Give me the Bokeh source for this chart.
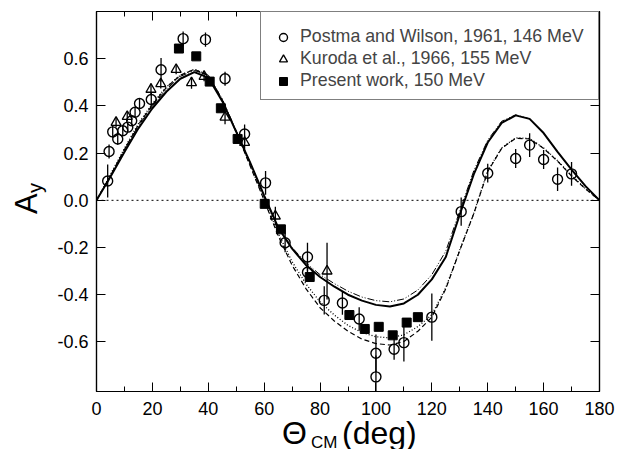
from bokeh.plotting import figure
from bokeh.models import (ColumnDataSource, Legend, LegendItem, Span, Div,
                          LinearAxis, FixedTicker, Range1d)
from bokeh.layouts import row, column
from bokeh.embed import file_html
from bokeh.resources import INLINE

FONT = "Liberation Sans"

# ---------------- data ----------------
postma_theta = [4, 4.5, 5.8, 7.6, 9.4, 11.2, 12.6, 13.8, 15.4, 19.6, 23.1, 31, 39, 46,
                53, 60.5, 67.5, 75.5, 75.5, 81.5, 88, 94, 100, 100, 106.5, 110, 120,
                130.5, 140, 150, 155, 160, 165, 170]
postma_ay = [0.082, 0.207, 0.29, 0.26, 0.295, 0.31, 0.337, 0.373, 0.41, 0.427, 0.553,
             0.685, 0.681, 0.515, 0.281, 0.074, -0.18, -0.24, -0.305, -0.424, -0.435,
             -0.503, -0.648, -0.748, -0.631, -0.603, -0.495, -0.048, 0.115, 0.177,
             0.234, 0.173, 0.089, 0.112]
postma_err = [0.07, 0.03, 0.025, 0.025, 0.02, 0.02, 0.02, 0.02, 0.02, 0.03, 0.05, 0.03,
              0.03, 0.03, 0.04, 0.05, 0.04, 0.06, 0.04, 0.06, 0.05, 0.05, 0.08, 0.09,
              0.045, 0.08, 0.1, 0.06, 0.04, 0.04, 0.05, 0.04, 0.05, 0.05]

kuroda_theta = [7, 11, 19.5, 23, 28.5, 34, 38.5, 46, 53, 64, 82.5]
kuroda_ay = [0.33, 0.355, 0.47, 0.494, 0.554, 0.498, 0.525, 0.352, 0.245, -0.067, -0.30]
kuroda_err = [0.02, 0.02, 0.025, 0.02, 0.02, 0.025, 0.02, 0.03, 0.03, 0.04, 0.12]

present_theta = [29.5, 35.7, 40.5, 44.5, 50.5, 60.2, 66, 76.3, 90.5, 96, 101, 106, 111, 115]
present_ay = [0.643, 0.61, 0.503, 0.39, 0.26, -0.015, -0.123, -0.325, -0.486, -0.545,
              -0.536, -0.572, -0.518, -0.495]

curve_theta = [0, 5, 10, 15, 20, 25, 30, 35, 40, 45, 50, 55, 60, 65, 70, 75, 80, 85, 90,
               95, 100, 105, 110, 115, 120, 125, 130, 135, 140, 145, 150, 155, 160, 165,
               170, 175, 180]
curve_solid = [0.0, 0.10, 0.205, 0.305, 0.39, 0.46, 0.515, 0.543, 0.52, 0.42, 0.29, 0.16,
               0.02, -0.115, -0.205, -0.275, -0.325, -0.365, -0.40, -0.425, -0.443, -0.45,
               -0.437, -0.40, -0.335, -0.24, -0.06, 0.11, 0.245, 0.328, 0.36, 0.345,
               0.285, 0.205, 0.13, 0.06, 0.0]
curve_dashdot = [0.0, 0.105, 0.215, 0.315, 0.40, 0.47, 0.525, 0.55, 0.53, 0.43, 0.295,
                 0.16, 0.015, -0.115, -0.20, -0.265, -0.315, -0.352, -0.385, -0.41, -0.425,
                 -0.43, -0.418, -0.38, -0.315, -0.215, -0.045, 0.125, 0.255, 0.335, 0.362,
                 0.345, 0.285, 0.205, 0.13, 0.06, 0.0]
curve_dotted = [0.0, 0.11, 0.22, 0.325, 0.41, 0.48, 0.53, 0.555, 0.53, 0.425, 0.29, 0.15,
                0.005, -0.14, -0.26, -0.355, -0.43, -0.485, -0.53, -0.56, -0.578, -0.583,
                -0.57, -0.535, -0.485, -0.37, -0.21, -0.055, 0.125, 0.222, 0.265, 0.262,
                0.222, 0.168, 0.105, 0.05, 0.0]
curve_dashed = [0.0, 0.105, 0.215, 0.32, 0.405, 0.478, 0.53, 0.555, 0.53, 0.425, 0.29,
                0.145, 0.0, -0.15, -0.275, -0.375, -0.455, -0.51, -0.555, -0.588, -0.607,
                -0.613, -0.598, -0.555, -0.495, -0.375, -0.212, -0.057, 0.122, 0.22, 0.263,
                0.26, 0.22, 0.166, 0.103, 0.048, 0.0]

x_ticks = [0, 20, 40, 60, 80, 100, 120, 140, 160, 180]
x_minor_ticks = [10, 30, 50, 70, 90, 110, 130, 150, 170]
x_tick_labels = ["0", "20", "40", "60", "80", "100", "120", "140", "160", "180"]
y_ticks = [-0.6, -0.4, -0.2, 0.0, 0.2, 0.4, 0.6]
y_tick_labels = ["-0.6", "-0.4", "-0.2", "0.0", "0.2", "0.4", "0.6"]

legend_labels = ["Postma and Wilson, 1961, 146 MeV",
                 "Kuroda et al., 1966, 155 MeV",
                 "Present work, 150 MeV"]
y_title = ["A", "y"]
x_title = ["\u0398", "CM", "(deg)"]

# ---------------- main figure ----------------
P_W, P_H = 566, 420
p = figure(width=P_W, height=P_H, x_range=Range1d(0, 180), y_range=Range1d(-0.81, 0.80),
           output_backend="svg", toolbar_location=None,
           min_border_left=46, min_border_right=17, min_border_top=11, min_border_bottom=29)
p.background_fill_color = "white"
p.border_fill_color = "white"
p.outline_line_color = "black"
p.outline_line_width = 1.2
p.grid.visible = False

xb = p.below[0]
yl = p.left[0]
xb.ticker = FixedTicker(ticks=x_ticks, minor_ticks=x_minor_ticks)
xb.major_label_overrides = {t: l for t, l in zip(x_ticks, x_tick_labels)}
yl.ticker = FixedTicker(ticks=y_ticks)
yl.major_label_overrides = {t: l for t, l in zip(y_ticks, y_tick_labels)}

top = LinearAxis(ticker=FixedTicker(ticks=x_ticks, minor_ticks=x_minor_ticks))
right = LinearAxis(ticker=FixedTicker(ticks=y_ticks))
p.add_layout(top, "above")
p.add_layout(right, "right")

for ax in [xb, yl]:
    ax.major_label_text_font = FONT
    ax.major_label_text_font_size = "18px"
    ax.major_label_text_color = "black"
xb.major_label_standoff = 10
yl.major_label_standoff = 8
for ax in [top, right]:
    ax.major_label_text_font_size = "1px"
    ax.major_label_text_color = None
    ax.major_label_standoff = 0
for ax in [xb, yl, top, right]:
    ax.axis_line_color = "black"
    ax.axis_line_width = 1.2
    ax.major_tick_line_color = "black"
    ax.major_tick_in = 9
    ax.major_tick_out = 0
    ax.minor_tick_in = 5
    ax.minor_tick_out = 0
    ax.minor_tick_line_color = "black"
for ax in [yl, right]:
    ax.minor_tick_line_color = None

# zero line
p.add_layout(Span(location=0, dimension="width", line_color="black", line_width=1,
                  line_dash="2 3"))

# theory curves
p.line(curve_theta, curve_solid, line_color="black", line_width=2)
p.line(curve_theta, curve_dashdot, line_color="black", line_width=1, line_dash="7 2 1 2 1 2")
p.line(curve_theta, curve_dotted, line_color="black", line_width=1.3, line_dash="1 2")
p.line(curve_theta, curve_dashed, line_color="black", line_width=1.2, line_dash="5 3")

# error bars
def bars(xs, ys, es):
    return ColumnDataSource(dict(x=xs, lo=[y - e for y, e in zip(ys, es)],
                                 hi=[y + e for y, e in zip(ys, es)]))

p.segment(x0="x", y0="lo", x1="x", y1="hi", source=bars(postma_theta, postma_ay, postma_err),
          line_color="black", line_width=1.3)
p.segment(x0="x", y0="lo", x1="x", y1="hi", source=bars(kuroda_theta, kuroda_ay, kuroda_err),
          line_color="black", line_width=1.3)

r_p = p.scatter(postma_theta, postma_ay, marker="circle", size=10, fill_color="white",
                fill_alpha=0, line_color="black", line_width=1.4)
r_k = p.scatter(kuroda_theta, kuroda_ay, marker="triangle", size=10, fill_color="white",
                fill_alpha=0, line_color="black", line_width=1.3)
r_s = p.scatter(present_theta, present_ay, marker="square", size=9, fill_color="black",
                line_color="black")

legend = Legend(items=[LegendItem(label=legend_labels[0], renderers=[r_p]),
                       LegendItem(label=legend_labels[1], renderers=[r_k]),
                       LegendItem(label=legend_labels[2], renderers=[r_s])],
                location="top_right", margin=0, padding=8, spacing=1,
                title=" ", title_text_font_size="5px", title_standoff=0,
                glyph_width=28, glyph_height=20, label_height=20, label_standoff=3,
                label_width=290,
                label_text_font=FONT, label_text_font_size="17.8px",
                border_line_color="black", border_line_width=1.2,
                background_fill_color="white", background_fill_alpha=1)
p.add_layout(legend)

# ---------------- axis titles as HTML text beside the figure ----------------
def span(txt, left, top, size, rotate=False):
    rot = "transform:rotate(-90deg);transform-origin:0 0;" if rotate else ""
    return (f'<span style="position:absolute;left:{left}px;top:{top}px;{rot}'
            f"font-family:'{FONT}';font-size:{size}px;line-height:1;"
            f'white-space:nowrap;color:#000;margin:0;padding:0;">{txt}</span>')

y_html = ('<div style="position:relative;width:50px;height:420px;margin:0;padding:0;">'
          + span(y_title[0], 10.8, 214, 31, rotate=True)
          + span(y_title[1], 25, 193, 20, rotate=True)
          + '</div>')
x_html = ('<div style="position:relative;width:566px;height:28px;margin:0;padding:0;">'
          + span(x_title[0], 232, -3, 32)
          + span(x_title[1], 261, 14, 17)
          + span(x_title[2], 292, -3, 32)
          + '</div>')

ydiv = Div(text=y_html, width=50, height=P_H, margin=0)
xdiv = Div(text=x_html, width=P_W, height=28, margin=0)

layout = row(ydiv, column(p, xdiv, spacing=0), spacing=0)

open("out.html", "w").write(file_html(layout, INLINE))
